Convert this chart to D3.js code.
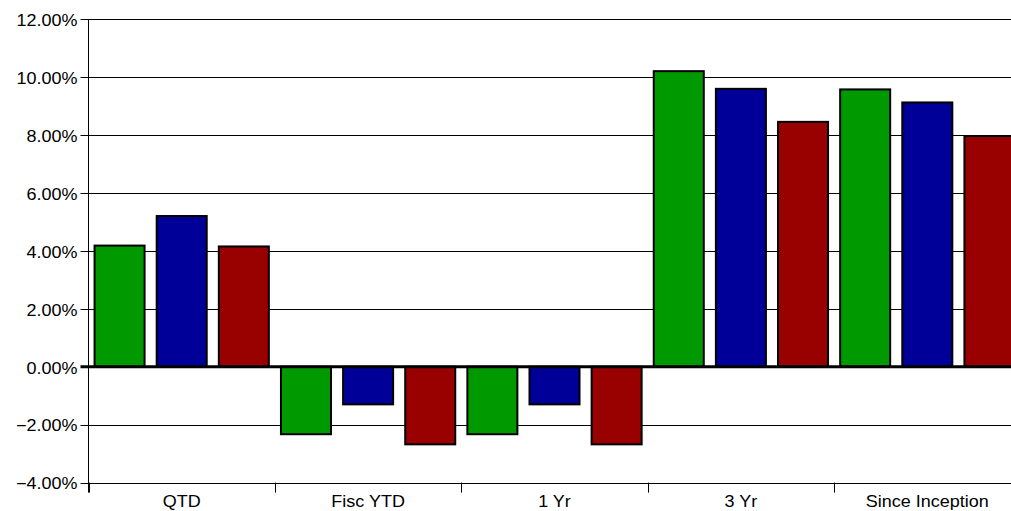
<!DOCTYPE html>
<html>
<head>
<meta charset="utf-8">
<script src="https://cdn.jsdelivr.net/npm/d3@7"></script>
<style>
  html, body { margin: 0; padding: 0; background: #fff; }
  svg { display: block; overflow: hidden; }
  text { font-family: "Liberation Sans", Arial, sans-serif; fill: #000; }
</style>
</head>
<body>
<svg id="chart" width="1011" height="511"></svg>
<script>
// Return periods and the three series shown for each
const categories = ["QTD", "Fisc YTD", "1 Yr", "3 Yr", "Since Inception"];
const seriesNames = ["Series A", "Series B", "Series C"];
const seriesA = [4.18, -2.33, -2.33, 10.20, 9.57];
const seriesB = [5.20, -1.30, -1.30, 9.59, 9.12];
const seriesC = [4.15, -2.68, -2.68, 8.45, 7.96];
const seriesColors = ["#009900", "#000099", "#990000"];
const yTicks = [-4, -2, 0, 2, 4, 6, 8, 10, 12];

const seriesValues = [seriesA, seriesB, seriesC];
const rows = categories.map((c, i) => ({
  category: c,
  values: seriesNames.map((s, j) => ({ key: s, value: seriesValues[j][i], color: seriesColors[j] }))
}));

const svg = d3.select("#chart");
const margin = { left: 88.5, top: 19, plotRight: 1020.5, bottom: 482.6 };

const x0 = d3.scaleBand()
  .domain(categories)
  .range([margin.left, margin.plotRight])
  .paddingInner(0)
  .paddingOuter(0);

const x1 = d3.scaleBand()
  .domain(seriesNames)
  .range([0, x0.bandwidth()])
  .paddingInner(0.195)
  .paddingOuter(0.0975);

const y = d3.scaleLinear()
  .domain([-4, 12])
  .range([margin.bottom, margin.top]);

const fontSize = "16.2px";
const xStretch = 1.11;

// Horizontal gridlines with short tick stubs to the left
svg.append("g")
  .selectAll("line")
  .data(yTicks.filter(t => t !== 0))
  .join("line")
  .attr("x1", margin.left - 8)
  .attr("x2", margin.plotRight)
  .attr("y1", d => Math.round(y(d)) + 0.5)
  .attr("y2", d => Math.round(y(d)) + 0.5)
  .attr("stroke", "#000")
  .attr("stroke-width", 1);

// Y tick labels
svg.append("g")
  .selectAll("text")
  .data(yTicks)
  .join("text")
  .attr("transform", d => `translate(${margin.left - 11},${y(d)}) scale(${xStretch},1)`)
  .attr("text-anchor", "end")
  .attr("dy", "0.42em")
  .style("font-size", fontSize)
  .text(d => d3.format(".2f")(d) + "%");

// Left axis line
svg.append("line")
  .attr("x1", margin.left).attr("x2", margin.left)
  .attr("y1", margin.top).attr("y2", margin.bottom + 10)
  .attr("stroke", "#000").attr("stroke-width", 1);

// Category separators below the plot
svg.append("g")
  .selectAll("line")
  .data(categories)
  .join("line")
  .attr("x1", d => Math.round(x0(d)) + 0.5)
  .attr("x2", d => Math.round(x0(d)) + 0.5)
  .attr("y1", margin.bottom)
  .attr("y2", margin.bottom + 10)
  .attr("stroke", "#000")
  .attr("stroke-width", 1);

// Category labels
svg.append("g")
  .selectAll("text")
  .data(categories)
  .join("text")
  .attr("transform", d => `translate(${x0(d) + x0.bandwidth() / 2},507) scale(${xStretch},1)`)
  .attr("text-anchor", "middle")
  .style("font-size", fontSize)
  .text(d => d);

// Bars
const groups = svg.append("g")
  .selectAll("g")
  .data(rows)
  .join("g")
  .attr("transform", d => `translate(${x0(d.category)},0)`);

groups.selectAll("rect")
  .data(d => d.values)
  .join("rect")
  .attr("x", d => x1(d.key))
  .attr("width", x1.bandwidth())
  .attr("y", d => Math.min(y(d.value), y(0)))
  .attr("height", d => Math.abs(y(d.value) - y(0)))
  .attr("fill", d => d.color)
  .attr("stroke", "#000")
  .attr("stroke-width", 2);

// Heavy zero line
svg.append("line")
  .attr("x1", margin.left - 8)
  .attr("x2", margin.plotRight)
  .attr("y1", y(0))
  .attr("y2", y(0))
  .attr("stroke", "#000")
  .attr("stroke-width", 3);
</script>
</body>
</html>
